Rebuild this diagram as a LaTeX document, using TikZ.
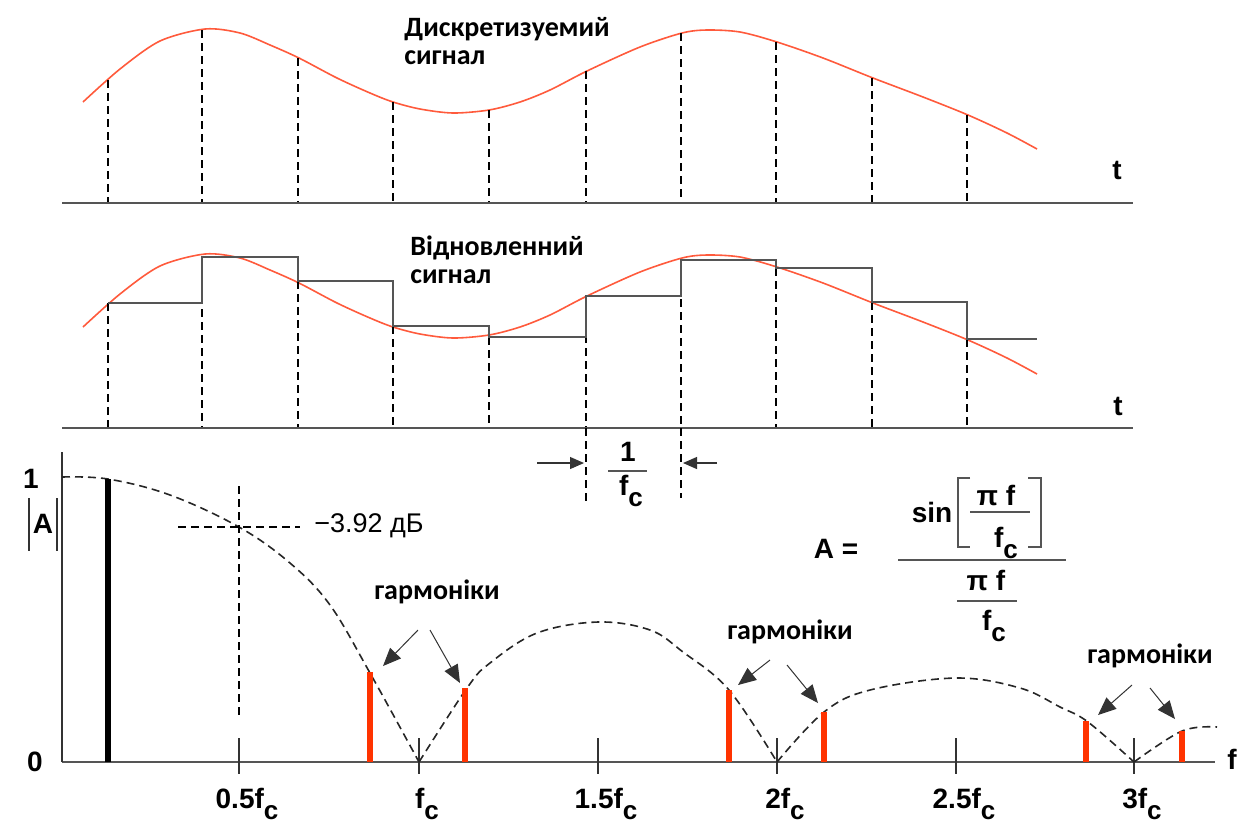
\documentclass[tikz,border=0pt]{standalone}
\usepackage{fontspec}
\setmainfont{Liberation Sans}
\newfontfamily\calfont{Carlito}
\usetikzlibrary{arrows.meta,positioning,calc}
\definecolor{sigred}{HTML}{FF5A3C}
\definecolor{barred}{HTML}{FF3300}
\definecolor{axgray}{HTML}{555555}
\newcommand\fcc{f\raisebox{-0.75ex}{\fontsize{13}{13}\selectfont c}}

\begin{document}
\begin{tikzpicture}[x=0.5pt, y=-0.5pt,
    every node/.style={font=\fontsize{14}{15}\selectfont\bfseries, inner sep=0pt},
    lbl/.style={font=\calfont\fontsize{14}{14}\selectfont\bfseries, align=left},
    axline/.style={draw=axgray, line width=1.3pt},
    samp/.style={draw=black, line width=0.8pt, dash pattern=on 4pt off 2.5pt},
    sig/.style={draw=sigred, line width=0.8pt},
    stair/.style={draw=axgray, line width=1.1pt},
    env/.style={draw=black!85, line width=0.8pt, dash pattern=on 4pt off 2.5pt},
    tick/.style={draw=black!80, line width=0.6pt},
    hbar/.style={draw=barred, line width=2.6pt},
    ptr/.style={draw=black!80, line width=0.5pt, -{Triangle[length=9pt,width=7.5pt]}},
    dim/.style={draw=black!80, line width=0.6pt, -{Triangle[length=7pt,width=6pt]}},
    fbar/.style={draw=axgray, line width=0.9pt}
  ]
  \useasboundingbox (0,0) rectangle (1240,827);

  % SIGNALS
  \foreach \dy in {0,225}
    \draw[sig, shift={(0,\dy)}] plot[smooth, tension=0.5] coordinates {
      (83,102) (120,69) (160,41) (205,29) (240,33) (270,45) (299,58)
      (337,78) (370,93) (393,102) (420,109) (453,113) (489,110) (520,102)
      (550,90) (587,71) (640,47) (682,33) (707,30) (740,32) (777,42) (823,58)
      (873,78) (923,97) (968,115) (1007,133) (1037,149)};

  % SAMPLES
  \foreach \sx/\sy/\my in {108/80/303,202/30/257,298/58/281,393/102/326,489/110/337,
                           586/71/296,681/33/260,776/42/268,872/78/302,967/115/339}{
    \draw[samp] (\sx,\sy) -- (\sx,203);
    \draw[samp] (\sx,\my) -- (\sx,428);
  }
  \draw[stair] (108,303) -| (202,257) -| (298,281) -| (393,326) -| (489,337)
    -| (586,296) -| (681,260) -| (776,268) -| (872,302) -| (967,339) -- (1037,339);

  % AXES
  \draw[axline] (62,203) -- (1133,203);
  \draw[axline] (62,428) -- (1133,428);
  \draw[axline] (62,762) -- (1215,762);
  \draw[tick] (62,452) -- (62,762);
  \node (t1) at (1117,170) {t};
  \node (t2) at (1118,406) {t};
  \node (fax) at (1232,759) {f};
  \node (one) at (31,479) {1};
  \node (zero) at (35,762) {0};
  \node (absA) at (43,524) {A};
  \draw[tick] (29,498) -- (29,551);
  \draw[tick] (57,498) -- (57,551);

  % LABELS
  \node[lbl, anchor=north west] (dsig) at (404,17) {Дискретизуемий\\сигнал};
  \node[lbl, anchor=north west] (rsig) at (410,235) {Відновленний\\сигнал};

  % 1/fc
  \draw[samp] (586,428) -- (586,505);
  \draw[samp] (681,428) -- (681,498);
  \coordinate (dl) at (584,463);
  \coordinate (dr) at (683,463);
  \draw[dim] (537,463) -- (dl);
  \draw[dim] (717,463) -- (dr);
  \node (num1) at (628,452) {1};
  \draw[fbar] (608,471) -- (647,471);
  \node[anchor=base] (den1) at (631,495) {\fcc};

  % SPECTRUM
  \foreach \tx/\tl [count=\i] in {239/0.5,419/,598/1.5,777/2,956/2.5,1134/3}{
    \draw[tick] (\tx,738) -- (\tx,774);
    \node[anchor=base] (fl\i) at (\tx+8,808) {\tl\fcc};
  }
  \draw[env] plot[smooth, tension=0.6] coordinates {
    (62,477) (108,479) (170,495) (239,527) (290,563) (330,605) (370,673) (419,762)};
  \draw[env] plot[smooth, tension=0.6] coordinates {
    (419,762) (467,688) (490,663) (537,633) (598,622) (650,630) (683,652) (729,690) (777,762)};
  \draw[env] plot[smooth, tension=0.6] coordinates {
    (777,762) (824,712) (870,690) (956,678) (1020,688) (1060,707) (1088,722) (1134,762)};
  \draw[env] plot[smooth, tension=0.6] coordinates {(1134,762) (1182,731) (1217,727)};
  \draw[line width=2.6pt] (108,479) -- (108,762);
  \foreach \bx/\by in {370/672,465/688,729/690,824/712,1086/721,1182/731}
    \draw[hbar] (\bx,\by) -- (\bx,762);

  % -3.92 dB
  \draw[samp] (239,486) -- (239,715);
  \draw[samp] (178,527) -- (300,527);
  \node[anchor=west, font=\fontsize{13.5}{14}\selectfont] (db) at (314,526) {−3.92 дБ};

  % HARMONICS
  \node[lbl] (h1) at (437,592) {гармоніки};
  \node[lbl] (h2) at (790,632) {гармоніки};
  \node[lbl] (h3) at (1150,656) {гармоніки};
  \coordinate (h1a) at (418,630); \coordinate (h1b) at (430,630);
  \coordinate (h2a) at (770,660); \coordinate (h2b) at (787,665);
  \coordinate (h3a) at (1132,685); \coordinate (h3b) at (1150,688);
  \coordinate (p1) at (383,666); \coordinate (p2) at (460,683);
  \coordinate (p3) at (738,685); \coordinate (p4) at (818,703);
  \coordinate (p5) at (1098,715); \coordinate (p6) at (1175,719);
  \draw[ptr] (h1a) -- (p1);
  \draw[ptr] (h1b) -- (p2);
  \draw[ptr] (h2a) -- (p3);
  \draw[ptr] (h2b) -- (p4);
  \draw[ptr] (h3a) -- (p5);
  \draw[ptr] (h3b) -- (p6);

  % FORMULA
  \node[anchor=base] (Aeq) at (836,558) {A =};
  \node[anchor=base] (sinw) at (932,522) {sin};
  \draw[fbar] (970,478) -- (958,478) -- (958,547) -- (970,547);
  \draw[fbar] (1028,478) -- (1041,478) -- (1041,547) -- (1028,547);
  \node[anchor=base] (pf1) at (996,505) {π f};
  \draw[fbar] (970,512) -- (1030,512);
  \node[anchor=base] (fc3) at (1006,547) {\fcc};
  \draw[fbar] (898,560) -- (1066,560);
  \node[anchor=base] (pf2) at (986,590) {π f};
  \draw[fbar] (957,601) -- (1017,601);
  \node[anchor=base] (fc4) at (994,630) {\fcc};
\end{tikzpicture}
\end{document}
